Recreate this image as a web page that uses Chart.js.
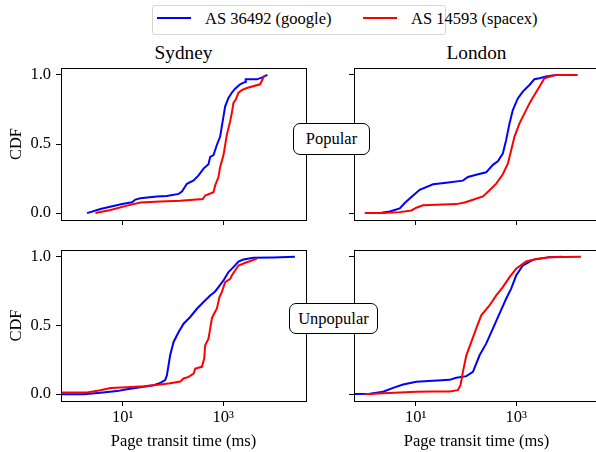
<!DOCTYPE html>
<html>
<head>
<meta charset="utf-8">
<script src="https://cdn.jsdelivr.net/npm/chart.js@4.4.1/dist/chart.umd.min.js"></script>
<style>
  html, body { margin: 0; padding: 0; background: #fff; overflow: hidden; }
  body { width: 596px; height: 452px; position: relative; font-family: 'Liberation Serif', 'Times New Roman', serif; color: #000; }
  canvas { position: absolute; }
  .title { position: absolute; width: 245px; text-align: center; font-size: 19.3px; line-height: 1; }
  .tag { position: absolute; z-index: 5; box-sizing: border-box; background: #fff; border: 1px solid #000; border-radius: 7px;
         font-size: 16.5px; display: flex; align-items: center; justify-content: center; }
  #legend { position: absolute; left: 152px; top: 5px; width: 294px; height: 30px; box-sizing: border-box;
            border: 1px solid #d5d5d5; border-radius: 3px; background: #fff; }
  #legend .swatch { position: absolute; top: 11px; width: 34px; height: 2px; }
  #legend .lbl { position: absolute; top: 5px; font-size: 16.5px; line-height: 1; white-space: nowrap; }
</style>
</head>
<body>

<div id="legend">
  <div class="swatch" style="left:4px;background:#0000ff"></div>
  <div class="lbl" style="left:52px">AS 36492 (google)</div>
  <div class="swatch" style="left:210px;background:#ff0000"></div>
  <div class="lbl" style="left:258px">AS 14593 (spacex)</div>
</div>

<div class="title" style="left:61px;top:43px">Sydney</div>
<div class="title" style="left:354px;top:43px">London</div>

<div class="tag" style="left:293px;top:123px;width:77px;height:32px">Popular</div>
<div class="tag" style="left:289px;top:303px;width:89px;height:31px">Unpopular</div>

<canvas id="sydPop" width="310" height="170" style="left:0;top:60px"></canvas>
<canvas id="lonPop" width="290" height="170" style="left:320px;top:60px"></canvas>
<canvas id="sydUnpop" width="310" height="210" style="left:0;top:242px"></canvas>
<canvas id="lonUnpop" width="290" height="210" style="left:320px;top:242px"></canvas>

<script>
// tick setup
const xTicks = [10, 1000];
const xTickLabels = ['10\u00b9', '10\u00b3'];
const yTicks = [0, 0.5, 1];
const X_MIN = 0.59;
const X_MAX = 44700;

// Sydney, popular
const sydPopGoogleX = [1.95, 3.6, 9.7, 15.3, 17.9, 22.4, 48, 76, 130, 151, 190, 258, 324, 407, 511, 552, 643, 749, 872, 941, 1016, 1097, 1277, 1487, 1731, 2177, 2735, 2820, 4665, 5867, 7600];
const sydPopGoogleY = [0, 0.029, 0.066, 0.078, 0.098, 0.107, 0.12, 0.124, 0.139, 0.156, 0.212, 0.237, 0.273, 0.322, 0.354, 0.407, 0.42, 0.493, 0.554, 0.627, 0.70, 0.773, 0.834, 0.871, 0.9, 0.932, 0.949, 0.968, 0.968, 0.98, 1.0];
const sydPopSpacexX = [2.86, 5.7, 12.2, 22.4, 56, 140, 394, 439, 643, 693, 807, 872, 1016, 1097, 1184, 1378, 1487, 1605, 1785, 2018, 2351, 2953, 5433, 5867, 6530];
const sydPopSpacexY = [0, 0.022, 0.054, 0.076, 0.083, 0.09, 0.102, 0.127, 0.151, 0.2, 0.261, 0.334, 0.42, 0.493, 0.566, 0.663, 0.724, 0.798, 0.822, 0.871, 0.89, 0.905, 0.932, 0.956, 0.993];

// London, popular
const lonPopGoogleX = [0.97, 2.08, 3.04, 4.81, 6.04, 8.2, 12.0, 22.1, 40.6, 87, 110, 160, 253, 344, 432, 543, 632, 738, 859, 1080, 1356, 1841, 2312, 2909, 3946, 6237];
const lonPopGoogleY = [0, 0.002, 0.012, 0.034, 0.073, 0.116, 0.169, 0.208, 0.22, 0.235, 0.261, 0.278, 0.295, 0.349, 0.375, 0.431, 0.528, 0.649, 0.746, 0.83, 0.879, 0.927, 0.969, 0.976, 0.988, 1.0];
const lonPopSpacexX = [0.97, 2.24, 4.81, 8.2, 10.3, 14.0, 25.8, 64, 94, 138, 218, 295, 401, 543, 683, 796, 926, 1165, 1465, 1841, 2312, 2909, 3656, 6237, 16800];
const lonPopSpacexY = [0, 0, 0.007, 0.019, 0.039, 0.056, 0.061, 0.065, 0.077, 0.097, 0.121, 0.165, 0.213, 0.281, 0.358, 0.455, 0.552, 0.649, 0.722, 0.794, 0.855, 0.915, 0.976, 1.0, 1.0];

// Sydney, unpopular
const sydUnpopGoogleX = [0.3, 1.68, 3.6, 7.7, 12.2, 26.1, 41.3, 56, 70, 76, 88, 103, 130, 163, 221, 300, 407, 552, 693, 807, 1016, 1277, 1605, 2018, 2535, 4009, 10000, 26900];
const sydUnpopGoogleY = [0, 0, 0.01, 0.022, 0.036, 0.053, 0.065, 0.082, 0.102, 0.138, 0.283, 0.38, 0.453, 0.513, 0.562, 0.622, 0.671, 0.719, 0.748, 0.78, 0.828, 0.889, 0.925, 0.966, 0.981, 0.993, 0.995, 1.0];
const sydUnpopSpacexX = [0.3, 1.95, 3.6, 5.7, 12.2, 26.1, 56, 88, 140, 163, 205, 258, 278, 377, 420, 439, 511, 596, 643, 749, 845, 941, 1097, 1378, 1487, 1731, 2018, 2953, 4665];
const sydUnpopSpacexY = [0.012, 0.012, 0.029, 0.044, 0.051, 0.058, 0.07, 0.08, 0.092, 0.114, 0.126, 0.15, 0.186, 0.199, 0.259, 0.356, 0.404, 0.55, 0.579, 0.622, 0.707, 0.743, 0.816, 0.84, 0.864, 0.901, 0.937, 0.961, 0.985];

// London, unpopular
const lonUnpopGoogleX = [0.3, 1.22, 2.24, 3.55, 5.6, 10.3, 22.1, 47.3, 64, 102, 138, 187, 253, 344, 466, 632, 796, 1000, 1356, 2143, 4592, 8450];
const lonUnpopGoogleY = [0, 0.002, 0.017, 0.046, 0.07, 0.09, 0.097, 0.104, 0.119, 0.131, 0.162, 0.283, 0.368, 0.477, 0.586, 0.695, 0.768, 0.864, 0.937, 0.978, 0.998, 1.0];
const lonUnpopSpacexX = [0.97, 2.24, 4.81, 10.3, 22.1, 47.3, 69, 78, 87, 102, 128, 160, 202, 295, 401, 543, 738, 1000, 1581, 2495, 4592, 19540];
const lonUnpopSpacexY = [0, 0.007, 0.012, 0.017, 0.019, 0.019, 0.029, 0.065, 0.162, 0.283, 0.38, 0.477, 0.574, 0.646, 0.719, 0.78, 0.852, 0.913, 0.966, 0.985, 0.998, 1.0];

const FONT = "'Liberation Serif', 'Times New Roman', serif";

// box around each axes, like matplotlib spines
const framePlugin = {
  id: 'frame',
  afterDraw(chart) {
    const { ctx, chartArea: a } = chart;
    ctx.save();
    ctx.strokeStyle = '#000';
    ctx.lineWidth = 1;
    ctx.strokeRect(Math.round(a.left) + 0.5, Math.round(a.top) + 0.5,
      Math.round(a.right - a.left), Math.round(a.bottom - a.top));
    ctx.restore();
  }
};

function pts(xs, ys) {
  return xs.map((x, i) => ({ x: x, y: ys[i] }));
}

function makePanel(id, gX, gY, sX, sY, opt) {
  const line = { showLine: true, pointRadius: 0, borderWidth: 2, fill: false, tension: 0 };
  new Chart(document.getElementById(id), {
    type: 'scatter',
    data: {
      datasets: [
        Object.assign({ label: 'AS 36492 (google)', data: pts(gX, gY), borderColor: '#0000ff', order: 1 }, line),
        Object.assign({ label: 'AS 14593 (spacex)', data: pts(sX, sY), borderColor: '#ff0000', order: 0 }, line)
      ]
    },
    options: {
      responsive: false,
      animation: false,
      devicePixelRatio: 1,
      layout: { padding: { top: 8, right: opt.padRight, left: 0, bottom: 0 } },
      plugins: { legend: { display: false }, tooltip: { enabled: false } },
      scales: {
        x: {
          type: 'logarithmic',
          min: X_MIN,
          max: X_MAX,
          afterBuildTicks: s => { s.ticks = xTicks.map(v => ({ value: v })); },
          afterFit: s => { s.height = opt.xHeight; s.paddingLeft = 0; s.paddingRight = 0; },
          border: { display: false },
          grid: { drawOnChartArea: false, drawTicks: true, tickLength: 5, tickWidth: 1, tickColor: '#000', color: '#000' },
          ticks: {
            display: opt.xLabels, padding: 2, color: '#000', autoSkip: false, maxRotation: 0,
            font: { family: FONT, size: 16.5 },
            callback: v => xTickLabels[xTicks.indexOf(v)]
          },
          title: {
            display: opt.xLabels, text: 'Page transit time (ms)', color: '#000',
            font: { family: FONT, size: 16.5 }, padding: { top: 0, bottom: 0 }
          }
        },
        y: {
          type: 'linear',
          min: -0.05,
          max: 1.05,
          afterBuildTicks: s => { s.ticks = yTicks.map(v => ({ value: v })); },
          afterFit: s => { s.width = opt.yWidth; s.paddingTop = 0; s.paddingBottom = 0; },
          border: { display: false },
          grid: { drawOnChartArea: false, drawTicks: true, tickLength: 5, tickWidth: 1, tickColor: '#000', color: '#000' },
          ticks: {
            display: opt.yLabels, padding: 5, color: '#000',
            font: { family: FONT, size: 16.5 },
            callback: v => v.toFixed(1)
          },
          title: {
            display: opt.yLabels, text: 'CDF', color: '#000',
            font: { family: FONT, size: 16.5 }, padding: { top: 7, bottom: 0 }
          }
        }
      }
    },
    plugins: [framePlugin]
  });
}

makePanel('sydPop', sydPopGoogleX, sydPopGoogleY, sydPopSpacexX, sydPopSpacexY,
  { padRight: 4, yWidth: 61, xHeight: 10, xLabels: false, yLabels: true });
makePanel('lonPop', lonPopGoogleX, lonPopGoogleY, lonPopSpacexX, lonPopSpacexY,
  { padRight: 11, yWidth: 34, xHeight: 10, xLabels: false, yLabels: false });
makePanel('sydUnpop', sydUnpopGoogleX, sydUnpopGoogleY, sydUnpopSpacexX, sydUnpopSpacexY,
  { padRight: 4, yWidth: 61, xHeight: 51, xLabels: true, yLabels: true });
makePanel('lonUnpop', lonUnpopGoogleX, lonUnpopGoogleY, lonUnpopSpacexX, lonUnpopSpacexY,
  { padRight: 11, yWidth: 34, xHeight: 51, xLabels: true, yLabels: false });
</script>
</body>
</html>
